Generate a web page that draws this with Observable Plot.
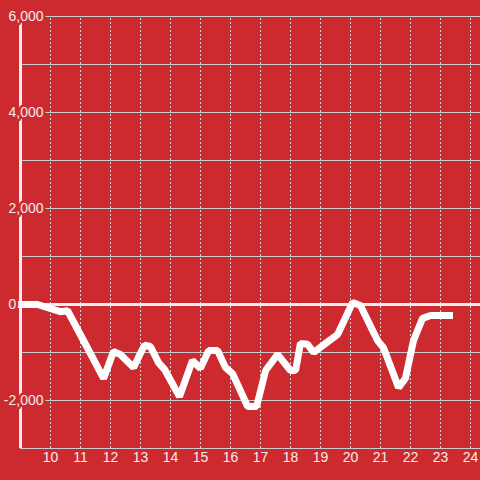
<!DOCTYPE html>
<html>
<head>
<meta charset="utf-8">
<script src="https://cdn.jsdelivr.net/npm/d3@7"></script>
<script src="https://cdn.jsdelivr.net/npm/@observablehq/plot@0.6"></script>
<style>
  html, body { margin: 0; padding: 0; background: #cd2a2f; }
  #chart svg { display: block; }
</style>
</head>
<body>
<div id="chart"></div>
<script>
const hours = [9.0, 9.57, 10.33, 10.57, 11.1, 11.77, 12.1, 12.33, 12.77, 13.13, 13.33, 13.6, 13.8, 14.3, 14.73, 15.0, 15.27, 15.57, 15.83, 16.07, 16.57, 16.87, 17.17, 17.57, 18.0, 18.17, 18.33, 18.57, 18.77, 19.17, 19.57, 20.07, 20.33, 20.9, 21.1, 21.6, 21.83, 22.1, 22.4, 22.67, 23.3];
const values = [0, 0, -150, -130, -750, -1540, -980, -1040, -1310, -850, -875, -1210, -1350, -1920, -1170, -1330, -960, -960, -1310, -1440, -2125, -2125, -1375, -1040, -1375, -1375, -810, -830, -1000, -810, -625, 40, -20, -750, -900, -1730, -1540, -750, -290, -230, -230];
const xTicks = [10, 11, 12, 13, 14, 15, 16, 17, 18, 19, 20, 21, 22, 23, 24];
const yGrid = [-3000, -2000, -1000, 1000, 2000, 3000, 4000, 5000, 6000];
const yLabels = [-2000, 0, 2000, 4000, 6000];

const bg = "#cd2a2f";
const textColor = "#f2eded";
const data = hours.map((h, i) => ({h, v: values[i]}));
const fmt = d => d.toLocaleString("en-US");

const chart = Plot.plot({
  width: 480,
  height: 480,
  marginLeft: 17,
  marginRight: 0,
  marginTop: 16,
  marginBottom: 32,
  style: {background: bg, fontFamily: "'Liberation Sans', Arial, sans-serif", fontSize: "14px"},
  x: {domain: [8.9, 24.333], axis: null},
  y: {domain: [-3000, 6000], axis: null},
  marks: [
    Plot.ruleX(xTicks, {x: d => d, y1: -3000, y2: 6000, stroke: "#d6d6d6", strokeDasharray: "2,2", strokeWidth: 1}),
    Plot.ruleY(yGrid, {y: d => d, x1: 9, x2: 24.333, stroke: "#cccccc", strokeWidth: 1}),
    Plot.ruleY([0], {y: d => d, stroke: "#eeeeee", strokeWidth: 3}),
    Plot.ruleX([9], {x: d => d, y1: -3000, y2: 6000, stroke: "#eeeeee", strokeWidth: 3}),
    Plot.line(data, {x: "h", y: "v", stroke: "#ffffff", strokeWidth: 7, strokeLinejoin: "miter", strokeLinecap: "square"}),
    Plot.text(yLabels.filter(d => d !== 0), {
      y: d => d, text: fmt, frameAnchor: "left", textAnchor: "end", dx: 26,
      fill: textColor, stroke: bg, strokeWidth: 5, fontSize: 14
    }),
    Plot.text(yLabels.filter(d => d === 0), {
      y: d => d, text: fmt, frameAnchor: "left", textAnchor: "start", dx: -9,
      fill: textColor, stroke: bg, strokeWidth: 5, fontSize: 14
    }),
    Plot.text(xTicks, {x: d => d, text: d => String(d), frameAnchor: "bottom", dy: 13, fill: textColor, fontSize: 14})
  ]
});
document.getElementById("chart").appendChild(chart);
</script>
</body>
</html>
